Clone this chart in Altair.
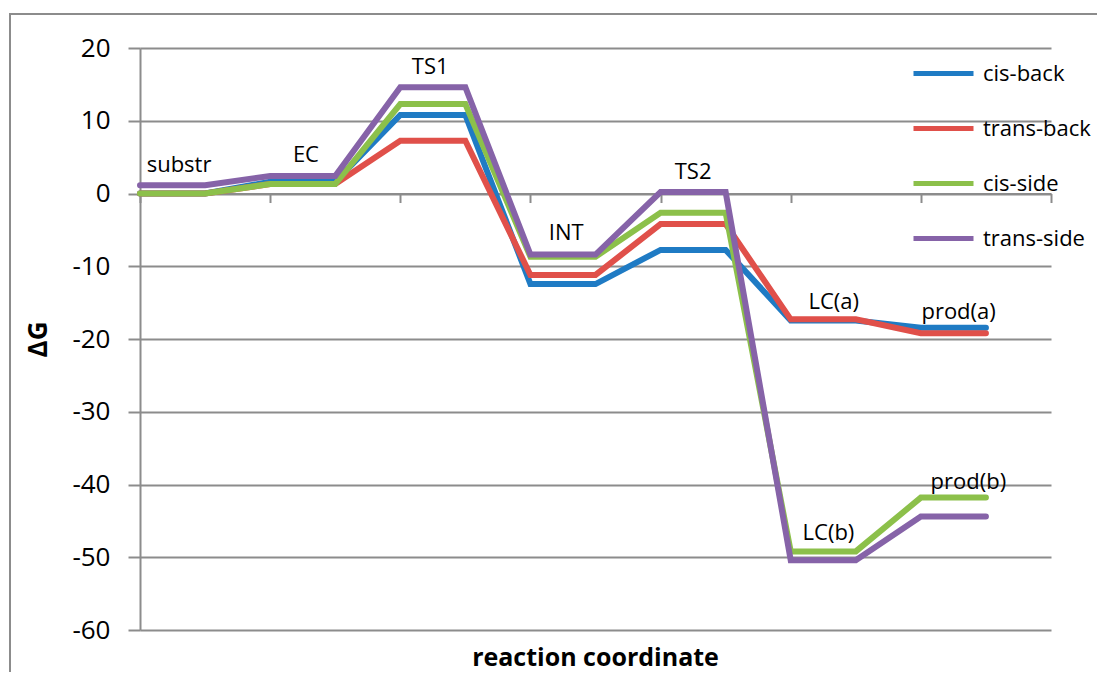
import altair as alt
import pandas as pd

# ---- data ----
series = ["cis-back", "trans-back", "cis-side", "trans-side"]
colors = ["#1f7bc4", "#e0504a", "#8cc04a", "#8663a8"]
states_back = ["substr", "EC", "TS1", "INT", "TS2", "LC(a)", "prod(a)"]
states_side = ["substr", "EC", "TS1", "INT", "TS2", "LC(b)", "prod(b)"]
cis_back = [0.0, 1.6, 10.8, -12.45, -7.75, -17.45, -18.45]
trans_back = [0.0, 1.3, 7.25, -11.2, -4.2, -17.3, -19.2]
cis_side = [0.0, 1.3, 12.3, -8.7, -2.65, -49.2, -41.8]
trans_side = [1.15, 2.4, 14.6, -8.4, 0.2, -50.4, -44.4]

label_text = ["substr", "EC", "TS1", "INT", "TS2", "LC(a)", "prod(a)", "LC(b)", "prod(b)"]
label_x = [0.6, 2.55, 4.46, 6.55, 8.5, 10.66, 12.58, 10.58, 12.73]
label_y = [3.9, 5.3, 17.4, -5.4, 3.0, -14.9, -16.25, -46.7, -39.6]

y_ticks = [20, 10, 0, -10, -20, -30, -40, -50, -60]
x_ticks = [0, 2, 4, 6, 8, 10, 12, 14]

FONT = "Open Sans"
GRAY = "#8c8c8c"
W, H = 911, 582

rows = []
for name, vals, states in [("cis-back", cis_back, states_back),
                           ("trans-back", trans_back, states_back),
                           ("cis-side", cis_side, states_side),
                           ("trans-side", trans_side, states_side)]:
    for i, (v, s) in enumerate(zip(vals, states)):
        rows.append({"series": name, "x": 2 * i, "dG": v, "state": s})
        rows.append({"series": name, "x": 2 * i + 1, "dG": v, "state": s})
df = pd.DataFrame(rows)

labels_df = pd.DataFrame({"text": label_text, "x": label_x, "dG": label_y})

x_scale = alt.Scale(domain=[0, 14], nice=False, zero=False)
y_scale = alt.Scale(domain=[-60, 20], nice=False, zero=False)

x_axis = alt.Axis(values=x_ticks, labels=False, title=None, grid=False,
                  tickSize=9, tickWidth=2, tickColor=GRAY,
                  domainColor=GRAY, domainWidth=2, offset=-436.5)
y_axis = alt.Axis(values=y_ticks, title="ΔG", titleFont=FONT, titleFontSize=26,
                  titleFontWeight="bold", titleColor="black", titlePadding=20,
                  labelFont=FONT, labelFontSize=26, labelColor="black",
                  labelExpr="'' + datum.value",
                  labelPadding=18, tickSize=12, tickWidth=2, tickColor=GRAY,
                  domainColor=GRAY, domainWidth=2, grid=True, gridColor=GRAY,
                  gridWidth=2)

color = alt.Color("series:N",
                  scale=alt.Scale(domain=series, range=colors),
                  legend=alt.Legend(title=None, orient="none", legendX=771, legendY=-7,
                                    symbolType="stroke", symbolStrokeWidth=5,
                                    symbolSize=3600, labelFont=FONT, labelFontSize=22,
                                    labelColor="black", labelOffset=7, rowPadding=11,
                                    padding=0, labelLimit=300))

frame = alt.Chart(alt.Data(values=[{"a": 1}])).mark_rect(
    fill=None, stroke=GRAY, strokeWidth=2, clip=False
).encode(x=alt.value(-130), y=alt.value(-34), x2=alt.value(1200), y2=alt.value(900))

layers = [frame]
for name in series:
    layers.append(
        alt.Chart(df).transform_filter(alt.datum.series == name).mark_line(
            strokeWidth=6, strokeCap="round"
        ).encode(
            x=alt.X("x:Q", scale=x_scale, axis=x_axis),
            y=alt.Y("dG:Q", scale=y_scale, axis=y_axis),
            color=color,
            order="x:Q",
        )
    )

texts = alt.Chart(labels_df).mark_text(
    font=FONT, fontSize=22, color="black", align="center", baseline="middle"
).encode(
    x=alt.X("x:Q", scale=x_scale, axis=x_axis),
    y=alt.Y("dG:Q", scale=y_scale, axis=y_axis),
    text="text:N",
)

xtitle = alt.Chart(alt.Data(values=[{"t": "reaction coordinate"}])).mark_text(
    font=FONT, fontSize=25, fontWeight="bold", color="black",
    align="center", baseline="middle", clip=False
).encode(x=alt.value(W / 2), y=alt.value(610), text="t:N")

chart = alt.layer(*layers, texts, xtitle).properties(
    width=W, height=H,
    padding={"left": 132, "top": 40, "right": 46, "bottom": 42},
    autosize=alt.AutoSizeParams(type="none"),
    background="white",
).configure_view(stroke=None)

chart.save("out.html", embed_options={"renderer": "svg", "actions": False})
